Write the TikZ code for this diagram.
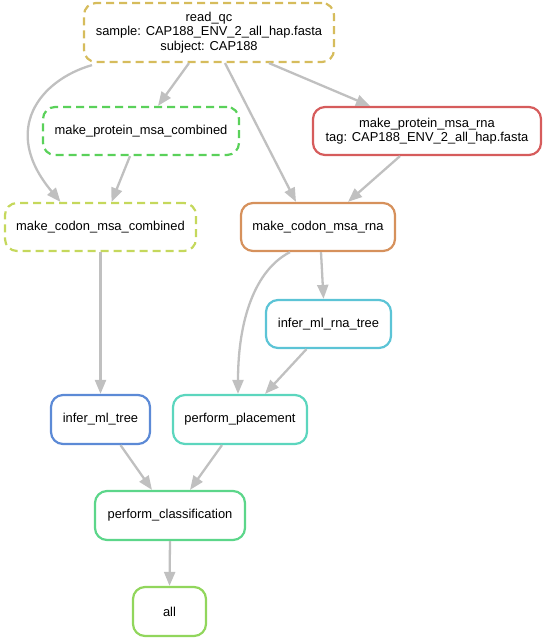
\documentclass[tikz,border=0pt]{standalone}
\usepackage{fontspec}
\setmainfont{Liberation Sans}
\usetikzlibrary{arrows.meta,shapes.misc}
\definecolor{cqc}{HTML}{D6BC5C}
\definecolor{cpmc}{HTML}{5AD15A}
\definecolor{ccmc}{HTML}{C5D85C}
\definecolor{cpmr}{HTML}{D65C5C}
\definecolor{ccmr}{HTML}{D6915C}
\definecolor{crt}{HTML}{5CC4D6}
\definecolor{cmt}{HTML}{5C8AD6}
\definecolor{cpp}{HTML}{5CD6BE}
\definecolor{cpc}{HTML}{5CD68A}
\definecolor{call}{HTML}{91D65C}
\definecolor{cedge}{HTML}{C0C0C0}
\tikzset{
  rule/.style={draw=#1, rounded corners=12pt, line width=2.2pt, fill=white,
    inner sep=0pt, align=center, font=\fontsize{12.9}{14.5}\selectfont},
  dashrule/.style={rule=#1, dash pattern=on 8pt off 5pt},
  conn/.style={draw=cedge, line width=2.3pt, -{Triangle[length=14pt,width=11pt]}},
}
\begin{document}
\begin{tikzpicture}[x=1pt,y=-1pt]
\useasboundingbox (0,0) rectangle (546,641);
\node[dashrule=cqc, minimum width=250pt, minimum height=59pt] (rq) at (209,32.5) {read\_qc\\sample: CAP188\_ENV\_2\_all\_hap.fasta\\subject: CAP188};
\node[dashrule=cpmc, minimum width=196pt, minimum height=48pt] (pmc) at (141,131) {make\_protein\_msa\_combined};
\node[dashrule=ccmc, minimum width=191pt, minimum height=48pt] (cmc) at (100.5,227) {make\_codon\_msa\_combined};
\node[rule=cpmr, minimum width=228pt, minimum height=48pt] (pmr) at (427,131) {make\_protein\_msa\_rna\\tag: CAP188\_ENV\_2\_all\_hap.fasta};
\node[rule=ccmr, minimum width=154pt, minimum height=48pt] (cmr) at (318,227) {make\_codon\_msa\_rna};
\node[rule=crt, minimum width=125pt, minimum height=48pt] (rt) at (328.5,324) {infer\_ml\_rna\_tree};
\node[rule=cmt, minimum width=99pt, minimum height=49pt] (mt) at (100.5,419.5) {infer\_ml\_tree};
\node[rule=cpp, minimum width=134pt, minimum height=49pt] (pp) at (240,419.5) {perform\_placement};
\node[rule=cpc, minimum width=150pt, minimum height=49pt] (pc) at (170,515.5) {perform\_classification};
\node[rule=call, minimum width=73pt, minimum height=49pt] (al) at (169.5,611.5) {all};

\draw[conn] ([xshift=-117pt,yshift=-2pt]rq.south) .. controls (40,80) and (0,130) .. ([xshift=-40pt]cmc.north);
\draw[conn] ([xshift=-20pt]rq.south) -- ([xshift=17pt]pmc.north);
\draw[conn] ([xshift=16pt]rq.south) -- ([xshift=-22pt]cmr.north);
\draw[conn] ([xshift=60pt]rq.south) -- ([xshift=-57pt]pmr.north);
\draw[conn] ([xshift=-11pt]pmc.south) -- ([xshift=11pt]cmc.north);
\draw[conn] ([xshift=-27pt]pmr.south) -- ([xshift=30pt]cmr.north);
\draw[conn] (cmc.south) -- (mt.north);
\draw[conn] ([xshift=3pt]cmr.south) -- ([xshift=-5pt]rt.north);
\draw[conn] ([xshift=-28pt]cmr.south) .. controls (255,270) and (238,320) .. ([xshift=-2pt]pp.north);
\draw[conn] ([xshift=-22pt]rt.south) -- ([xshift=25pt]pp.north);
\draw[conn] ([xshift=20pt]mt.south) -- ([xshift=-18pt]pc.north);
\draw[conn] ([xshift=-18pt]pp.south) -- ([xshift=20pt]pc.north);
\draw[conn] (pc.south) -- (al.north);
\end{tikzpicture}
\end{document}
